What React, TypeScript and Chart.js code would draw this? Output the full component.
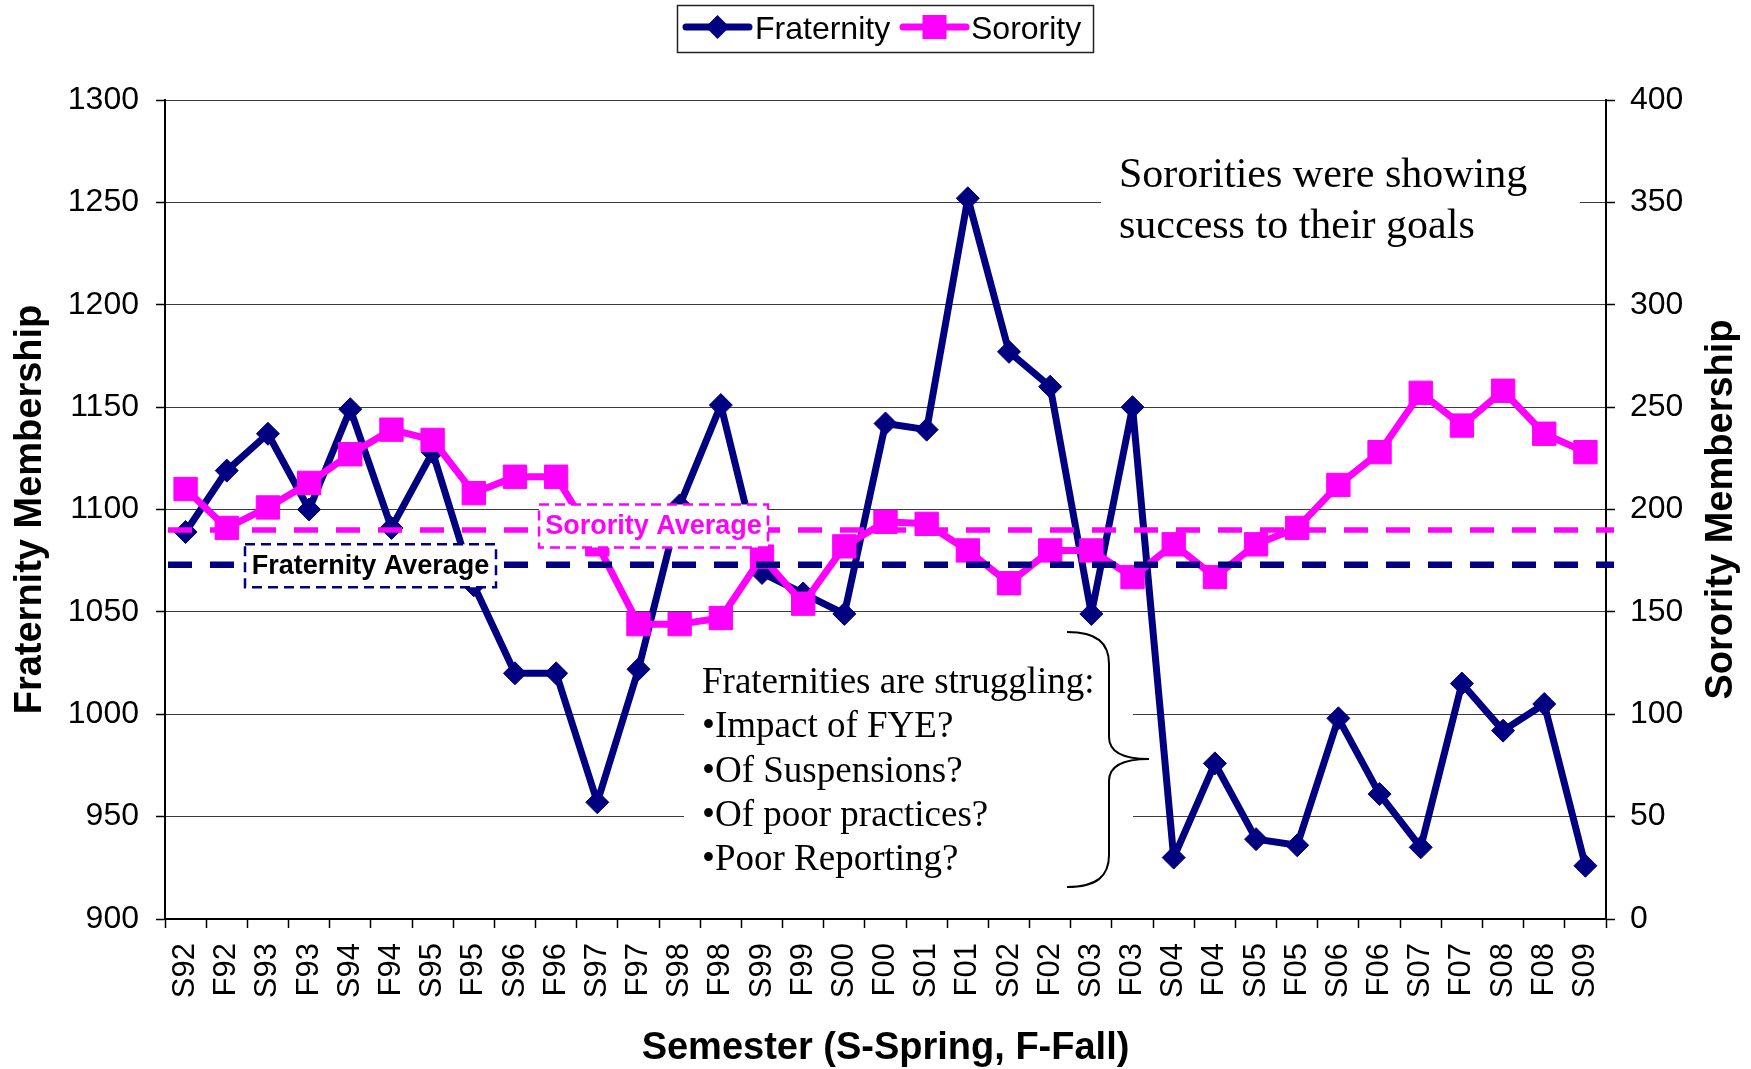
import React, { useEffect, useRef } from 'react';
import { Chart, registerables } from 'chart.js';

Chart.register(...registerables);

// ---------------- data ----------------
const semesters = [
  'S92', 'F92', 'S93', 'F93', 'S94', 'F94', 'S95', 'F95', 'S96', 'F96',
  'S97', 'F97', 'S98', 'F98', 'S99', 'F99', 'S00', 'F00', 'S01', 'F01',
  'S02', 'F02', 'S03', 'F03', 'S04', 'F04', 'S05', 'F05', 'S06', 'F06',
  'S07', 'F07', 'S08', 'F08', 'S09',
];

const fraternity = [
  1089, 1119, 1137, 1100, 1149, 1091, 1128, 1063, 1020, 1020,
  957, 1022, 1102, 1151, 1069, 1059, 1049, 1142, 1139, 1252,
  1177, 1160, 1049, 1150, 930, 976, 939, 936, 998, 961,
  935, 1015, 992, 1005, 926,
];

const sorority = [
  210, 191, 201, 213, 227, 239, 234, 208, 216, 216,
  183, 144, 144, 147, 177, 154, 182, 194, 193, 180,
  164, 180, 180, 167, 183, 167, 183, 191, 212, 228,
  257, 241, 258, 237, 228,
];

const fraternityAverage = 1073;
const sororityAverage = 190;

const fraternityAxis = { min: 900, max: 1300, step: 50 };
const sororityAxis = { min: 0, max: 400, step: 50 };

const seriesNames = ['Fraternity', 'Sorority'];
const averageLabels = ['Fraternity Average', 'Sorority Average'];
const axisTitles = ['Fraternity Membership', 'Sorority Membership', 'Semester (S-Spring, F-Fall)'];
const sororityNote = ['Sororities were showing', 'success to their goals'];
const fraternityNote = [
  'Fraternities are struggling:',
  '\u2022Impact of FYE?',
  '\u2022Of Suspensions?',
  '\u2022Of poor practices?',
  '\u2022Poor Reporting?',
];

// ---------------- styles ----------------
const NAVY = '#000080';
const MAGENTA = '#FF00FF';
const SANS = "'Liberation Sans', Arial, sans-serif";
const SERIF = "'Liberation Serif', 'Times New Roman', serif";
const W = 1751;
const H = 1069;

const overlayPlugin = {
  id: 'overlay',
  beforeDatasetsDraw(chart: any) {
    const ctx = chart.ctx;
    ctx.save();
    ctx.fillStyle = '#ffffff';
    // white backgrounds of the two text notes
    ctx.fillRect(1101, 140, 479, 125);
    ctx.fillRect(684, 640, 449, 262);
    ctx.restore();
  },
  afterDatasetsDraw(chart: any) {
    const ctx = chart.ctx;
    const area = chart.chartArea;
    const yF = chart.scales.y.getPixelForValue(fraternityAverage);
    const yS = chart.scales.y1.getPixelForValue(sororityAverage);

    ctx.save();
    // average lines
    ctx.setLineDash([24, 18]);
    ctx.lineWidth = 5.5;
    ctx.strokeStyle = MAGENTA;
    ctx.beginPath();
    ctx.moveTo(area.left + 3, yS);
    ctx.lineTo(area.right + 8, yS);
    ctx.stroke();
    ctx.lineWidth = 6.5;
    ctx.strokeStyle = NAVY;
    ctx.beginPath();
    ctx.moveTo(area.left + 3, yF);
    ctx.lineTo(area.right + 8, yF);
    ctx.stroke();

    // average label boxes
    const drawBox = (x: number, cy: number, w: number, h: number, color: string, textColor: string, text: string) => {
      ctx.setLineDash([]);
      ctx.fillStyle = '#ffffff';
      ctx.fillRect(x, cy - h / 2, w, h);
      ctx.setLineDash([10, 6]);
      ctx.lineWidth = 2.5;
      ctx.strokeStyle = color;
      ctx.strokeRect(x, cy - h / 2, w, h);
      ctx.setLineDash([]);
      ctx.fillStyle = textColor;
      ctx.font = `bold 27px ${SANS}`;
      ctx.textAlign = 'center';
      ctx.textBaseline = 'middle';
      ctx.fillText(text, x + w / 2, cy + 1);
    };
    drawBox(245, yF + 1, 251, 43, NAVY, '#000000', averageLabels[0]);
    drawBox(539, yS - 4, 229, 43, MAGENTA, MAGENTA, averageLabels[1]);

    // notes
    ctx.fillStyle = '#000000';
    ctx.textAlign = 'left';
    ctx.textBaseline = 'alphabetic';
    ctx.font = `42px ${SERIF}`;
    sororityNote.forEach((t, i) => ctx.fillText(t, 1119, 187 + i * 50.5));
    ctx.font = `37px ${SERIF}`;
    fraternityNote.forEach((t, i) => ctx.fillText(t, 702, 693 + i * 44.25));

    // brace
    ctx.lineWidth = 2;
    ctx.strokeStyle = '#000000';
    ctx.beginPath();
    ctx.moveTo(1067, 632);
    ctx.bezierCurveTo(1097, 632, 1109, 643, 1109, 664);
    ctx.lineTo(1109, 737);
    ctx.bezierCurveTo(1109, 752, 1124, 759, 1149, 759);
    ctx.bezierCurveTo(1124, 759, 1109, 766, 1109, 781);
    ctx.lineTo(1109, 855);
    ctx.bezierCurveTo(1109, 876, 1097, 887, 1067, 887);
    ctx.stroke();
    ctx.restore();
  },
  afterDraw(chart: any) {
    const ctx = chart.ctx;
    const area = chart.chartArea;
    const cy = (area.top + area.bottom) / 2;
    ctx.save();
    // axis titles
    ctx.fillStyle = '#000000';
    ctx.font = `bold 38px ${SANS}`;
    ctx.textAlign = 'center';
    ctx.textBaseline = 'middle';
    ctx.save();
    ctx.translate(31, cy);
    ctx.rotate(-Math.PI / 2);
    ctx.fillText(axisTitles[0], 0, 0);
    ctx.restore();
    ctx.save();
    ctx.translate(1722, cy);
    ctx.rotate(-Math.PI / 2);
    ctx.fillText(axisTitles[1], 0, 0);
    ctx.restore();
    ctx.textBaseline = 'alphabetic';
    ctx.fillText(axisTitles[2], (area.left + area.right) / 2, 1059);

    // legend
    ctx.fillStyle = '#ffffff';
    ctx.fillRect(677.5, 5.5, 416, 47);
    ctx.lineWidth = 1.5;
    ctx.strokeStyle = '#222222';
    ctx.strokeRect(677.5, 5.5, 416, 47);
    const ly = 27;
    ctx.lineCap = 'round';
    ctx.lineWidth = 7;
    ctx.strokeStyle = NAVY;
    ctx.beginPath();
    ctx.moveTo(686, ly);
    ctx.lineTo(749, ly);
    ctx.stroke();
    ctx.fillStyle = NAVY;
    ctx.beginPath();
    ctx.moveTo(717.5 - 12, ly);
    ctx.lineTo(717.5, ly - 12);
    ctx.lineTo(717.5 + 12, ly);
    ctx.lineTo(717.5, ly + 12);
    ctx.closePath();
    ctx.fill();
    ctx.strokeStyle = MAGENTA;
    ctx.beginPath();
    ctx.moveTo(903, ly);
    ctx.lineTo(966, ly);
    ctx.stroke();
    ctx.fillStyle = MAGENTA;
    ctx.fillRect(934.5 - 12, ly - 12, 24, 24);
    ctx.fillStyle = '#000000';
    ctx.font = `32px ${SANS}`;
    ctx.textAlign = 'left';
    ctx.textBaseline = 'alphabetic';
    ctx.fillText(seriesNames[0], 755, 39);
    ctx.fillText(seriesNames[1], 971, 39);
    ctx.restore();
  },
};

const plainNumber = (v: any) => String(v);

export default function App() {
  const canvasRef = useRef<HTMLCanvasElement | null>(null);

  useEffect(() => {
    document.body.style.margin = '0';
    const canvas = canvasRef.current;
    if (!canvas) return;
    const chart = new Chart(canvas, {
      type: 'line',
      data: {
        labels: semesters,
        datasets: [
          {
            label: seriesNames[0],
            data: fraternity,
            yAxisID: 'y',
            order: 1,
            borderColor: NAVY,
            backgroundColor: NAVY,
            borderWidth: 7,
            borderJoinStyle: 'round',
            pointStyle: 'rectRot',
            pointRadius: 11.5,
            pointBorderWidth: 1,
            pointBackgroundColor: NAVY,
            pointBorderColor: NAVY,
            tension: 0,
            fill: false,
          },
          {
            label: seriesNames[1],
            data: sorority,
            yAxisID: 'y1',
            order: 0,
            borderColor: MAGENTA,
            backgroundColor: MAGENTA,
            borderWidth: 7,
            borderJoinStyle: 'round',
            pointStyle: 'rect',
            pointRadius: 16.5,
            pointBorderWidth: 1,
            pointBackgroundColor: MAGENTA,
            pointBorderColor: MAGENTA,
            tension: 0,
            fill: false,
          },
        ],
      },
      options: {
        responsive: false,
        maintainAspectRatio: false,
        devicePixelRatio: 1,
        animation: false,
        events: [],
        layout: { padding: { top: 100, left: 0, right: 0, bottom: 0 } },
        plugins: {
          legend: { display: false },
          title: { display: false },
          tooltip: { enabled: false },
        },
        scales: {
          x: {
            type: 'category',
            offset: true,
            grid: {
              offset: true,
              drawOnChartArea: false,
              drawTicks: true,
              tickLength: 9,
              tickColor: '#000000',
              tickWidth: 1.5,
            },
            border: { display: true, color: '#000000', width: 2 },
            ticks: {
              autoSkip: false,
              minRotation: 90,
              maxRotation: 90,
              padding: 15,
              color: '#000000',
              font: { family: SANS, size: 31 },
            },
            afterFit: (s: any) => {
              s.height = 150;
            },
          },
          y: {
            position: 'left',
            min: fraternityAxis.min,
            max: fraternityAxis.max,
            ticks: {
              stepSize: fraternityAxis.step,
              padding: 17,
              color: '#000000',
              font: { family: SANS, size: 32 },
              callback: plainNumber,
            },
            grid: {
              color: '#3c3c3c',
              lineWidth: 1,
              tickLength: 9,
              tickColor: '#000000',
              tickWidth: 1.5,
            },
            border: { display: true, color: '#000000', width: 2 },
            afterFit: (s: any) => {
              s.width = 165;
            },
          },
          y1: {
            position: 'right',
            min: sororityAxis.min,
            max: sororityAxis.max,
            ticks: {
              stepSize: sororityAxis.step,
              padding: 15,
              color: '#000000',
              font: { family: SANS, size: 32 },
              callback: plainNumber,
            },
            grid: {
              drawOnChartArea: false,
              tickLength: 9,
              tickColor: '#000000',
              tickWidth: 1.5,
            },
            border: { display: true, color: '#000000', width: 2 },
            afterFit: (s: any) => {
              s.width = 145;
            },
          },
        },
      },
      plugins: [overlayPlugin],
    } as any);
    return () => chart.destroy();
  }, []);

  return (
    <div style={{ position: 'absolute', left: 0, top: 0, width: W, height: H, background: '#ffffff' }}>
      <canvas ref={canvasRef} width={W} height={H} style={{ display: 'block', width: W, height: H }} />
    </div>
  );
}
